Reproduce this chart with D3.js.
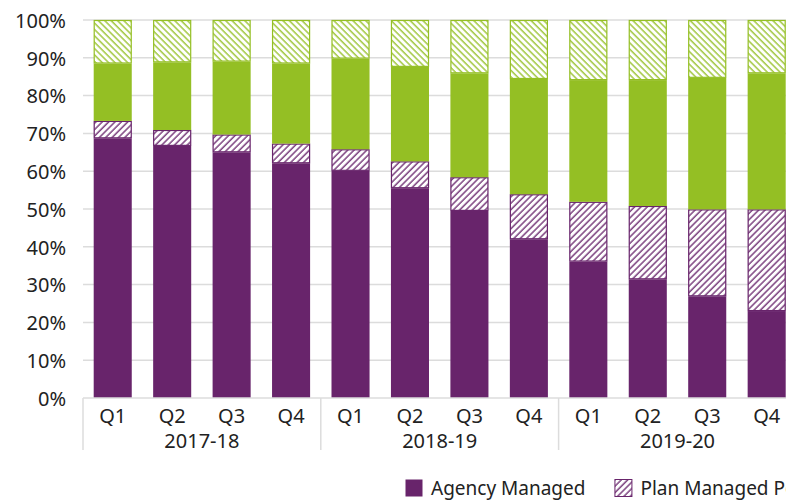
<!DOCTYPE html>
<html>
<head>
<meta charset="utf-8">
<script src="https://cdn.jsdelivr.net/npm/d3@7"></script>
<style>
body{margin:0;background:#fff;}
text{font-family:"Noto Sans",sans-serif;fill:#222;}
</style>
</head>
<body>
<div id="root"></div>
<script>
// chart data (percent of total)
var quarters=['Q1','Q2','Q3','Q4','Q1','Q2','Q3','Q4','Q1','Q2','Q3','Q4'];
var years=['2017-18','2018-19','2019-20'];
var agency=[68.7,66.7,65.0,62.1,60.1,55.5,49.5,42.0,36.1,31.4,26.9,23.0];
var planPortion=[4.6,4.2,4.7,5.2,5.7,7.1,8.9,11.9,15.8,19.4,23.0,26.9];
var selfPortion=[15.2,17.9,19.3,21.2,24.0,25.0,27.5,30.5,32.2,33.3,34.8,36.0];
var selfFully=[11.5,11.2,11.0,11.5,10.2,12.4,14.1,15.6,15.9,15.9,15.3,14.1];
var seriesNames=['Agency Managed','Plan Managed Portion','Self Managed Portion','Self Managed Fully'];
var yTicks=[0,10,20,30,40,50,60,70,80,90,100];

var W=786,H=502;
var m={l:83,t:20,b:104};
var purple='#68246b',green='#94bf24';

var svg=d3.select('#root').append('svg').attr('width',W).attr('height',H);

var defs=svg.append('defs');
function hatch(id,color,angle){
	var p=defs.append('pattern').attr('id',id).attr('patternUnits','userSpaceOnUse')
		.attr('width',4.5).attr('height',4.5).attr('patternTransform','rotate('+angle+')');
	p.append('rect').attr('width',4.5).attr('height',4.5).attr('fill','#fff');
	p.append('line').attr('x1',1).attr('x2',1).attr('y1',0).attr('y2',4.5)
		.attr('stroke',color).attr('stroke-width',1.3);
}
hatch('hPurple',purple,45);
hatch('hGreen',green,-45);

var styles=[
	{fill:purple,stroke:'none'},
	{fill:'url(#hPurple)',stroke:purple},
	{fill:green,stroke:'none'},
	{fill:'url(#hGreen)',stroke:green}
];

var x=d3.scaleBand().domain(d3.range(quarters.length))
	.range([m.l,m.l+12*59.45]).paddingInner(0.36).paddingOuter(0.18);
var y=d3.scaleLinear().domain([0,100]).range([H-m.b,m.t]);

// gridlines
svg.append('g').selectAll('line').data(yTicks.slice(1)).enter().append('line')
	.attr('x1',m.l).attr('x2',W).attr('y1',function(d){return y(d)}).attr('y2',function(d){return y(d)})
	.attr('stroke','#dcdcdc').attr('stroke-width',1.5);

var yAxis=d3.axisLeft(y).tickValues(yTicks).tickFormat(function(d){return d+'%'}).tickSize(0).tickPadding(17);
var ya=svg.append('g').attr('transform','translate('+m.l+',0)').call(yAxis);
ya.select('.domain').remove();
ya.selectAll('text').style('font-size','20px').attr('dy','0.36em');

// stacking
var rows=quarters.map(function(q,i){return {i:i,s0:agency[i],s1:planPortion[i],s2:selfPortion[i],s3:selfFully[i]}});
var stack=d3.stack().keys(['s0','s1','s2','s3']);
var layers=stack(rows);

var lg=svg.selectAll('.layer').data(layers).enter().append('g').attr('class','layer');
lg.each(function(layer,k){
	var inset=styles[k].stroke=='none'?0:0.5;
	d3.select(this).selectAll('rect').data(layer).enter().append('rect')
		.attr('x',function(d){return x(d.data.i)+inset})
		.attr('width',function(){return x.bandwidth()-2*inset})
		.attr('y',function(d){return y(d[1])+inset})
		.attr('height',function(d){return y(d[0])-y(d[1])-2*inset})
		.attr('fill',styles[k].fill).attr('stroke',styles[k].stroke).attr('stroke-width',1.2);
});

// bottom axis
var base=y(0);
svg.append('line').attr('x1',m.l).attr('x2',W).attr('y1',base).attr('y2',base)
	.attr('stroke','#dcdcdc').attr('stroke-width',1.5);
var step=x.step();
[0,4,8].forEach(function(i){
	var xx=x(i)-x.paddingOuter()*step;
	svg.append('line').attr('x1',xx).attr('x2',xx).attr('y1',base).attr('y2',base+52)
		.attr('stroke','#dcdcdc').attr('stroke-width',1.5);
});
svg.append('g').selectAll('text').data(quarters).enter().append('text')
	.attr('x',function(d,i){return x(i)+x.bandwidth()/2}).attr('y',base+25)
	.attr('text-anchor','middle').style('font-size','20px').text(function(d){return d});
svg.append('g').selectAll('text').data(years).enter().append('text')
	.attr('x',function(d,i){return x(i*4)-x.paddingOuter()*step+2*step}).attr('y',base+50)
	.attr('text-anchor','middle').style('font-size','20px').text(function(d){return d});

// legend (runs off the right edge, as in the original)
var lx=405;
seriesNames.forEach(function(name,k){
	var g=svg.append('g').attr('transform','translate('+lx+',479)');
	g.append('rect').attr('x',0.5).attr('y',0.5).attr('width',17).attr('height',17)
		.attr('fill',styles[k].fill).attr('stroke',styles[k].stroke=='none'?'none':styles[k].stroke);
	var t=g.append('text').attr('x',26).attr('y',16).style('font-size','19px').text(name);
	lx+=26+t.node().getComputedTextLength()+29;
});
</script>
</body>
</html>
